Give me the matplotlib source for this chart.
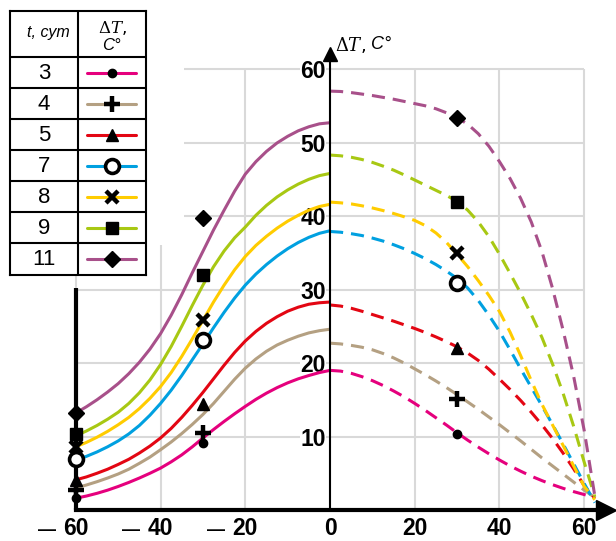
import matplotlib
matplotlib.use("Agg")
import matplotlib.pyplot as plt
from matplotlib.patches import Rectangle

plt.rcParams["mathtext.fontset"] = "dejavuserif"

DAYS = ["3", "4", "5", "7", "8", "9", "11"]
COLORS = ["#e5007d", "#b4a082", "#e30613", "#00a0e0", "#ffcc00", "#a8c813", "#a8508a"]

X_LEFT = [-60, -57.5, -55, -52.5, -50, -47.5, -45, -42.5, -40, -37.5, -35, -32.5, -30,
          -27.5, -25, -22.5, -20, -17.5, -15, -12.5, -10, -7.5, -5, -2.5, 0]
X_RIGHT = [0, 2.5, 5, 7.5, 10, 12.5, 15, 17.5, 20, 22.5, 25, 27.5, 30,
           32.5, 35, 37.5, 40, 42.5, 45, 47.5, 50, 52.5, 55, 57.5, 60, 62.5]
X_MARK = [-60, -30, 30]

# left branch (solid)
T3_LEFT = [1.6, 1.9, 2.27, 2.7, 3.2, 3.75, 4.35, 5.0, 5.7, 6.55, 7.5, 8.6, 9.8,
           10.95, 12.05, 13.1, 14.1, 15.05, 15.9, 16.65, 17.3, 17.85, 18.3, 18.7, 19.0]
T4_LEFT = [3.0, 3.4, 3.85, 4.35, 4.9, 5.55, 6.35, 7.2, 8.2, 9.25, 10.4, 11.65, 13.0,
           14.5, 16.15, 17.8, 19.3, 20.55, 21.6, 22.45, 23.1, 23.65, 24.1, 24.4, 24.6]
T5_LEFT = [4.1, 4.5, 5.0, 5.55, 6.2, 6.9, 7.75, 8.7, 9.8, 11.1, 12.6, 14.25, 16.0,
           17.85, 19.7, 21.45, 23.0, 24.3, 25.4, 26.3, 27.05, 27.6, 28.0, 28.2, 28.3]
T7_LEFT = [6.8, 7.3, 7.9, 8.6, 9.4, 10.35, 11.5, 12.9, 14.5, 16.3, 18.3, 20.45, 22.6,
           24.8, 26.9, 28.85, 30.6, 32.1, 33.4, 34.55, 35.55, 36.4, 37.1, 37.65, 38.0]
T8_LEFT = [8.6, 9.2, 9.9, 10.7, 11.6, 12.6, 13.8, 15.2, 16.8, 18.7, 20.9, 23.3, 25.8,
           28.3, 30.6, 32.7, 34.5, 36.0, 37.25, 38.35, 39.3, 40.1, 40.8, 41.3, 41.6]
T9_LEFT = [10.1, 10.75, 11.5, 12.35, 13.3, 14.5, 15.95, 17.7, 19.8, 22.25, 25.0, 27.85, 30.6,
           33.1, 35.25, 37.05, 38.5, 40.1, 41.45, 42.6, 43.55, 44.35, 45.0, 45.5, 45.8]
T11_LEFT = [13.2, 14.05, 15.0, 16.05, 17.2, 18.55, 20.1, 21.9, 24.0, 26.5, 29.3, 32.3, 35.2,
            38.1, 40.8, 43.4, 45.7, 47.4, 48.8, 49.95, 50.85, 51.6, 52.15, 52.55, 52.7]

# right branch (dashed)
T3_RIGHT = [19.0, 18.9, 18.6, 18.15, 17.6, 16.95, 16.2, 15.4, 14.5, 13.55, 12.55, 11.55, 10.5,
            9.5, 8.55, 7.65, 6.8, 6.0, 5.28, 4.6, 4.0, 3.45, 2.95, 2.5, 2.1, 1.7]
T4_RIGHT = [22.7, 22.6, 22.4, 22.15, 21.8, 21.3, 20.7, 20.0, 19.2, 18.4, 17.55, 16.65, 15.7,
            14.7, 13.7, 12.65, 11.6, 10.5, 9.4, 8.25, 7.1, 6.0, 4.9, 3.8, 2.7, 1.7]
T5_RIGHT = [27.9, 27.75, 27.45, 27.05, 26.6, 26.15, 25.7, 25.2, 24.7, 24.15, 23.55, 22.9, 22.2,
            21.35, 20.35, 19.15, 17.8, 16.4, 14.9, 13.3, 11.6, 9.75, 7.75, 5.6, 3.3, 1.6]
T7_RIGHT = [37.9, 37.8, 37.6, 37.35, 37.0, 36.6, 36.1, 35.55, 34.9, 34.2, 33.4, 32.5, 31.5,
            30.2, 28.5, 26.5, 24.3, 21.8, 19.2, 16.7, 14.2, 11.65, 9.0, 6.3, 3.6, 1.0]
T8_RIGHT = [41.9, 41.8, 41.65, 41.4, 41.1, 40.75, 40.35, 39.9, 39.4, 38.7, 37.7, 36.4, 34.8,
            33.1, 31.2, 29.2, 27.0, 24.2, 21.0, 17.6, 14.4, 11.6, 8.8, 6.0, 3.2, 1.4]
T9_RIGHT = [48.3, 48.2, 48.0, 47.7, 47.3, 46.8, 46.25, 45.6, 44.9, 44.2, 43.5, 42.8, 42.0,
            40.8, 39.2, 37.2, 34.8, 32.2, 29.5, 26.6, 23.5, 19.9, 15.9, 11.4, 6.5, 1.8]
T11_RIGHT = [57.0, 56.95, 56.8, 56.6, 56.4, 56.15, 55.9, 55.6, 55.3, 55.0, 54.6, 54.05, 53.4,
             52.5, 51.2, 49.5, 47.4, 45.1, 42.4, 39.2, 35.2, 30.2, 24.5, 18.2, 10.8, 1.9]

# measured points at x = -60, -30, 30
T3_MARK = [1.6, 9.1, 10.4]
T4_MARK = [2.7, 10.5, 15.1]
T5_MARK = [4.1, 14.4, 22.1]
T7_MARK = [6.9, 23.2, 30.9]
T8_MARK = [8.6, 25.9, 35.0]
T9_MARK = [10.4, 32.0, 41.9]
T11_MARK = [13.2, 39.7, 53.4]

LEFT = [T3_LEFT, T4_LEFT, T5_LEFT, T7_LEFT, T8_LEFT, T9_LEFT, T11_LEFT]
RIGHT = [T3_RIGHT, T4_RIGHT, T5_RIGHT, T7_RIGHT, T8_RIGHT, T9_RIGHT, T11_RIGHT]
MARKS = [T3_MARK, T4_MARK, T5_MARK, T7_MARK, T8_MARK, T9_MARK, T11_MARK]

TICK_X = [-60, -40, -20, 0, 20, 40, 60]
TICK_Y = [10, 20, 30, 40, 50, 60]

MARKER_STYLES = [
    dict(marker="o", ms=6),
    dict(marker="+", ms=11, mew=3.2),
    dict(marker="^", ms=8),
    dict(marker="o", ms=10, mfc="white", mew=2.6),
    dict(marker="x", ms=8, mew=3.2),
    dict(marker="s", ms=8.5),
    dict(marker="D", ms=8),
]

LW = 2.2
GRID_C = "#d9d9d9"
NUM_FONT = ["Liberation Sans", "DejaVu Sans"]
NARROW_FONT = ["Liberation Sans Narrow", "Liberation Sans", "DejaVu Sans"]

fig = plt.figure(figsize=(6.16, 5.41), dpi=100)
ax = fig.add_axes([0, 0, 1, 1])
ax.set_xlim(-77.9, 67.5)
ax.set_ylim(-4.22, 69.4)

# grid, only over the plotted field
ax.hlines(TICK_Y, -60, 60, color=GRID_C, lw=1.5, zorder=0.5)
ax.vlines(TICK_X, 0, 60, color=GRID_C, lw=1.5, zorder=0.5)
# white block around the table
ax.add_patch(Rectangle((-78, 36), 43.5, 40, fc="white", ec="none", zorder=0.8))

for i in range(len(DAYS)):
    ax.plot(X_LEFT, LEFT[i], color=COLORS[i], lw=LW, solid_capstyle="butt",
            solid_joinstyle="round", zorder=2)
    ax.plot(X_RIGHT, RIGHT[i], color=COLORS[i], lw=LW, dashes=(4.3, 2.6), zorder=2)
    ax.plot(X_MARK, MARKS[i], ls="none", color="black", mec="black", zorder=4,
            clip_on=False, **MARKER_STYLES[i])

# axes lines
for s in ["top", "right"]:
    ax.spines[s].set_visible(False)
ax.spines["bottom"].set_position(("data", 0))
ax.spines["bottom"].set_bounds(-60, 65)
ax.spines["bottom"].set_linewidth(3)
ax.spines["left"].set_position(("data", 0))
ax.spines["left"].set_bounds(0, 61.5)
ax.spines["left"].set_linewidth(1.5)
ax.plot([-60, -60], [0, 30.2], color="black", lw=3, solid_capstyle="butt", zorder=3)
ax.plot(65.2, 0, marker=">", ms=15, color="black", clip_on=False, zorder=5)
ax.plot(0, 62, marker="^", ms=10, color="black", clip_on=False, zorder=5)

ax.set_xticks(TICK_X)
ax.set_xticklabels([str(abs(v)) for v in TICK_X])
ax.set_yticks(TICK_Y)
ax.set_yticklabels([str(v) for v in TICK_Y])
ax.tick_params(axis="both", length=0)
ax.tick_params(axis="x", pad=5)
ax.tick_params(axis="y", pad=3)
for lab in ax.get_xticklabels() + ax.get_yticklabels():
    lab.set_fontfamily(NUM_FONT)
    lab.set_fontweight("bold")
    lab.set_fontsize(16.5)
for lab in ax.get_yticklabels():
    lab.set_bbox(dict(fc="white", ec="none", pad=0))
for v in TICK_X:
    if v < 0:
        ax.annotate("\u2014", xy=(v, 0), xytext=(-21, -14.5), textcoords="offset points",
                    ha="center", va="center", fontsize=13, fontweight="bold",
                    family=NUM_FONT)

ax.text(1.2, 63.3, r"$\Delta T$,", fontsize=13, ha="left", va="center")
ax.text(9.6, 63.3, "C\u00b0", fontsize=13, ha="left", va="center", style="italic",
        family=NUM_FONT)

# legend table
tab = fig.add_axes([10 / 616, 1 - 275 / 541, 136 / 616, 264 / 541])
tab.set_xlim(0, 136)
tab.set_ylim(264, 0)
tab.set_xticks([])
tab.set_yticks([])
for s in tab.spines.values():
    s.set_linewidth(1.5)
tab.axvline(68, color="black", lw=1.5)
for k in range(len(DAYS)):
    y0 = 46 + 31 * k
    tab.axhline(y0, color="black", lw=1.5)
    yc = y0 + 15.5
    tab.text(34, yc + 1, DAYS[k], ha="center", va="center", fontsize=16,
             family=NARROW_FONT)
    tab.plot([77, 126], [yc, yc], color=COLORS[k], lw=LW, solid_capstyle="round")
    tab.plot([101.5], [yc], ls="none", color="black", mec="black", **MARKER_STYLES[k])
tab.text(38, 22, "t, сут", ha="center", va="center", fontsize=11.5, style="italic",
         family=NUM_FONT)
tab.text(102, 17, r"$\Delta T$,", ha="center", va="center", fontsize=12)
tab.text(101, 34, "C\u00b0", ha="center", va="center", fontsize=12, style="italic",
         family=NUM_FONT)

fig.savefig("out.png", dpi=100)
